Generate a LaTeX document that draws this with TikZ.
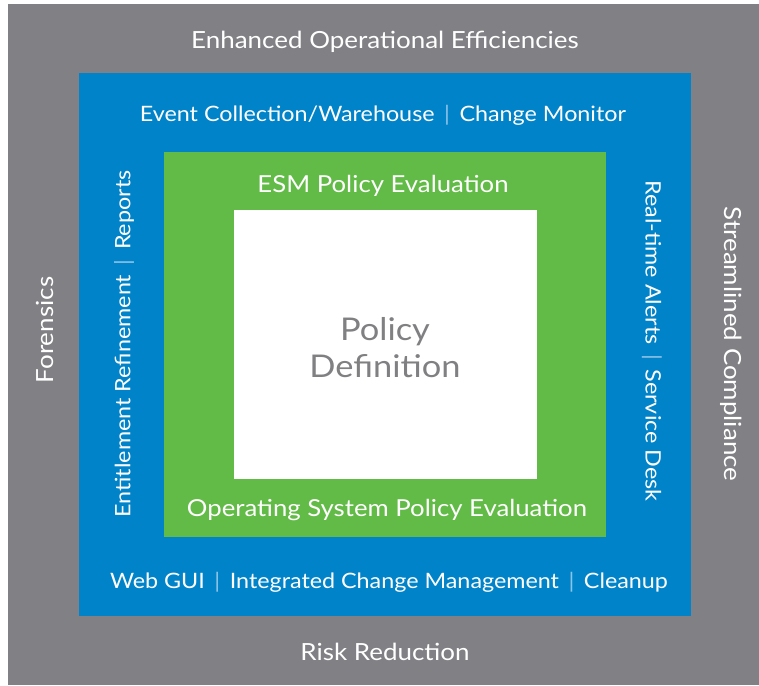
\documentclass[tikz,border=0pt]{standalone}
\usepackage{fontspec}
\setmainfont{Lato}[FakeStretch=1.1]
\definecolor{outergray}{HTML}{818185}
\definecolor{midblue}{HTML}{0083C9}
\definecolor{leafgreen}{HTML}{62BB46}
\definecolor{defgray}{HTML}{808083}
\definecolor{sepblue}{HTML}{8CC3E6}
\newcommand{\sepb}{\hspace{0.45em}\textcolor{sepblue}{|}\hspace{0.45em}}
\begin{document}
\begin{tikzpicture}[x=1pt,y=-1pt,
  panel/.style={draw=none,inner sep=0pt,outer sep=0pt},
  lbl/.style={text=white,inner sep=0pt,font=\fontsize{21.2}{25}\selectfont},
  outerlbl/.style={lbl,font=\fontsize{23.6}{28}\selectfont},
  greenlbl/.style={lbl,font=\fontsize{23.4}{28}\selectfont}]
\useasboundingbox (0,0) rectangle (759,685);
\fill[outergray] (8,4) rectangle (759,685);
\node[panel,fill=midblue,anchor=north west,minimum width=612pt,minimum height=543pt] (blue) at (79,73) {};
\node[panel,fill=leafgreen,anchor=north west,minimum width=442pt,minimum height=385pt] (green) at (164,152) {};
\node[panel,fill=white,anchor=north west,minimum width=303pt,minimum height=269pt] (core) at (234,210) {};
% outer labels
\node[outerlbl] (top) at (385,42) {Enhanced Operational Efficiencies};
\node[outerlbl] (bottom) at (385,652) {Risk Reduction};
\node[outerlbl,rotate=90] (left) at (45,330) {Forensics};
\node[outerlbl,rotate=-90] (right) at (731,344) {Streamlined Compliance};
% blue labels
\node[lbl] (btop) at (383,115) {Event Collection/Warehouse\sepb Change Monitor};
\node[lbl] (bbot) at (389,582) {Web GUI\sepb Integrated Change Management\sepb Cleanup};
\node[lbl,rotate=90] (bleft) at (124,344) {Entitlement Refinement\sepb Reports};
\node[lbl,rotate=-90] (bright) at (652,341) {Real-time Alerts\sepb Service Desk};
% green labels
\node[greenlbl] (gtop) at (383,186) {ESM Policy Evaluation};
\node[greenlbl] (gbot) at (387,510) {Operating System Policy Evaluation};
% core label
\node[text=defgray,align=center,inner sep=0pt,font=\fontsize{31.3}{37}\selectfont] (def) at (385,348) {Policy\\Definition};
\end{tikzpicture}
\end{document}
